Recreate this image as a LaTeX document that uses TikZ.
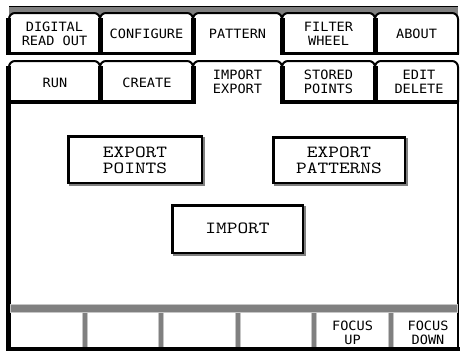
\documentclass[tikz,border=0pt]{standalone}
\usepackage{fontspec}
\newfontfamily\tabfont{DejaVu Sans Mono}[FakeStretch=1.06]
\newfontfamily\btnfont{lmmono10-regular.otf}[FakeStretch=1.2]
\definecolor{band}{gray}{0.5}
\begin{document}
\begin{tikzpicture}[x=1pt,y=-1pt,
  tab/.style={draw=black, line width=2pt, fill=white, rounded corners=6pt},
  tabtext/.style={font=\tabfont\fontsize{12.8}{14}\selectfont, align=center, inner sep=0pt},
  btntext/.style={font=\btnfont\fontsize{17}{16}\selectfont, align=center, inner sep=0pt},
  bandfill/.style={fill=band, draw=gray!45, line width=0.6pt},
]
\useasboundingbox (0,0) rectangle (460,351);
\fill[white] (0,0) rectangle (460,351);

% top band
\fill[band] (9,6) rectangle (458,18);
\draw[black, line width=1pt] (9,6.5) -- (458,6.5);

% row 1 tabs
\foreach \a/\b in {9/100,100/193,193/282,282/375,375/458}
  \draw[tab] (\a,54) |- (\b,13) -- (\b,54);
\foreach \s in {100,193,282,375}
  \fill[black] (\s-2.5,18) rectangle (\s+2.5,55);
\fill[black] (6,18) rectangle (11,55);
\fill[black] (6,52) rectangle (193,55);
\fill[black] (282,52) rectangle (459,55);

% row 2 tabs
\foreach \a/\b in {9/100,100/193,193/282,282/375,375/458}
  \draw[tab] (\a,102) |- (\b,61) -- (\b,102);
\foreach \s in {100,193,282,375}
  \fill[black] (\s-2.5,66) rectangle (\s+2.5,104);
\fill[black] (6,66) rectangle (11,104);
\fill[black] (6,100) rectangle (193,104);
\fill[black] (282,100) rectangle (459,104);

% content frame
\fill[black] (6,100) rectangle (10.5,351);
\draw[black, line width=2pt] (458,100) -- (458,351);

% bottom soft-key bar
\draw[bandfill] (10.5,304) rectangle (457,312);
\foreach \d in {84.5,161,237.5,314,390.5}
  \draw[bandfill] (\d-2.5,312) rectangle (\d+2.5,347);
\fill[black] (6,347) rectangle (460,351);

% 3D buttons
\foreach \x/\y/\X/\Y in {68/136/202/183, 273/137/405/183, 172/205/303/253} {
  \fill[white] (\x,\y) rectangle (\X,\Y);
  \fill[band] (\X,\y+1) rectangle (\X+3,\Y+3);
  \fill[band] (\x+1,\Y) rectangle (\X+3,\Y+3);
  \draw[black, line width=1.2pt] (\x,\y) rectangle (\X,\Y);
  \fill[black] (\x-1,\y-1) rectangle (\x+2,\Y);
  \fill[black] (\x-1,\y-1) rectangle (\X,\y+2);
}

% tab labels row 1
\node[tabtext] (t1) at (54.5,34) {DIGITAL\\READ OUT};
\node[tabtext] (t2) at (146.5,34) {CONFIGURE};
\node[tabtext] (t3) at (237.5,34) {PATTERN};
\node[tabtext] (t4) at (328.5,34) {FILTER\\WHEEL};
\node[tabtext] (t5) at (416.5,34) {ABOUT};

% tab labels row 2
\node[tabtext] (s1) at (55,83) {RUN};
\node[tabtext] (s2) at (147,83) {CREATE};
\node[tabtext] (s3) at (237.5,82) {IMPORT\\EXPORT};
\node[tabtext] (s4) at (328.5,82) {STORED\\POINTS};
\node[tabtext] (s5) at (419,82) {EDIT\\DELETE};

% button labels
\node[btntext] (b1) at (135,160) {EXPORT\\POINTS};
\node[btntext] (b2) at (339,160) {EXPORT\\PATTERNS};
\node[btntext] (b3) at (237.5,228) {IMPORT};

% soft keys
\node[tabtext] (k1) at (352.5,333) {FOCUS\\UP};
\node[tabtext] (k2) at (428,333) {FOCUS\\DOWN};
\end{tikzpicture}
\end{document}
